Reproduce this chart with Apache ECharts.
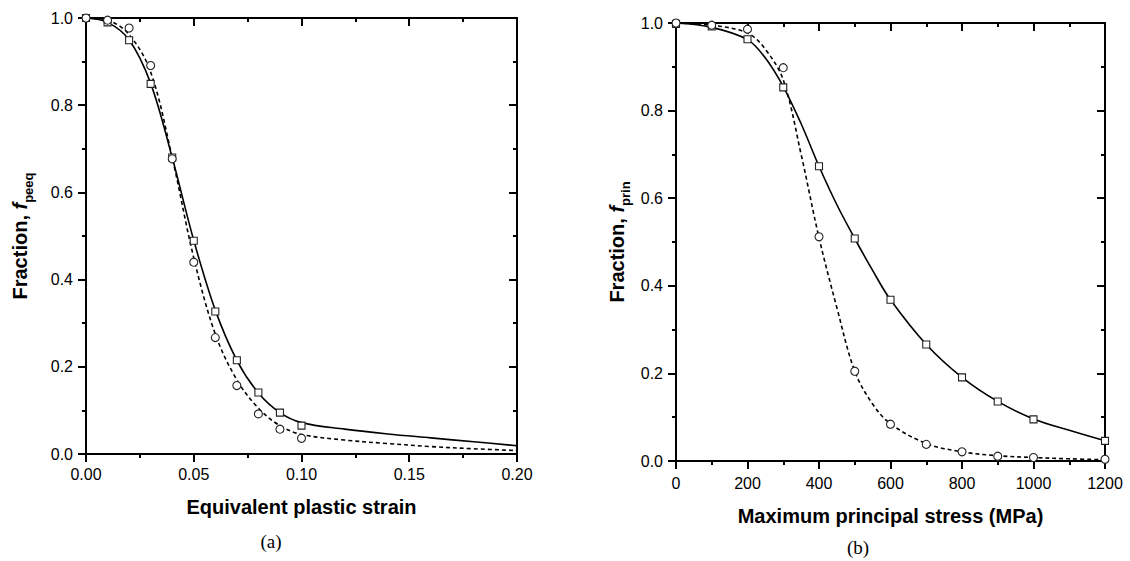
<!DOCTYPE html>
<html>
<head>
<meta charset="utf-8">
<script src="https://cdn.jsdelivr.net/npm/echarts@6/dist/echarts.min.js"></script>
<style>
html,body{margin:0;padding:0;background:#fff;}
#c{width:1130px;height:561px;}
</style>
</head>
<body>
<div id="c"></div>
<script>
// ---- Panel (a): equivalent plastic strain ----
const strainX = [0, 0.01, 0.02, 0.03, 0.04, 0.05, 0.06, 0.07, 0.08, 0.09, 0.10];
const peeqSquares = [1.0, 0.99, 0.949, 0.849, 0.68, 0.489, 0.327, 0.215, 0.141, 0.095, 0.065];
const peeqCircles = [1.0, 0.995, 0.977, 0.891, 0.677, 0.44, 0.267, 0.157, 0.092, 0.057, 0.036];
const strainFitX = [0, 0.01, 0.02, 0.03, 0.04, 0.05, 0.06, 0.07, 0.08, 0.09, 0.10, 0.12, 0.14, 0.16, 0.18, 0.20];
const peeqSolidFit = [1.0, 0.99, 0.95, 0.85, 0.68, 0.49, 0.33, 0.215, 0.14, 0.095, 0.072, 0.057, 0.046, 0.037, 0.028, 0.019];
const peeqDashedFit = [1.0, 0.995, 0.962, 0.876, 0.68, 0.45, 0.275, 0.17, 0.105, 0.065, 0.045, 0.032, 0.024, 0.017, 0.012, 0.008];
const strainTicks = [0, 0.05, 0.10, 0.15, 0.20];

// ---- Panel (b): maximum principal stress ----
const stressX = [0, 100, 200, 300, 400, 500, 600, 700, 800, 900, 1000, 1200];
const prinSquares = [0.998, 0.992, 0.963, 0.853, 0.673, 0.508, 0.368, 0.266, 0.191, 0.136, 0.095, 0.046];
const prinCircles = [1.0, 0.995, 0.986, 0.898, 0.512, 0.205, 0.084, 0.038, 0.021, 0.011, 0.008, 0.004];
const stressFitX = [0, 100, 200, 250, 300, 350, 400, 450, 500, 550, 600, 700, 800, 900, 1000, 1100, 1200];
const prinSolidFit = [1.0, 0.99, 0.962, 0.92, 0.855, 0.77, 0.673, 0.585, 0.508, 0.435, 0.368, 0.266, 0.191, 0.136, 0.096, 0.07, 0.046];
const prinDashedFit = [1.0, 0.995, 0.977, 0.94, 0.87, 0.70, 0.51, 0.35, 0.205, 0.13, 0.085, 0.04, 0.021, 0.012, 0.008, 0.005, 0.003];
const stressTicks = [0, 200, 400, 600, 800, 1000, 1200];

const fractionTicks = [0.0, 0.2, 0.4, 0.6, 0.8, 1.0];

const zip = (xs, ys) => xs.map((x, i) => [x, ys[i]]);
const FONT = 'Liberation Sans, Arial, sans-serif';
const SERIF = 'Liberation Serif, Times New Roman, serif';

function nameRich() {
  return {
    a: {fontSize: 20, fontWeight: 'bold', fontFamily: FONT, color: '#000', lineHeight: 22, verticalAlign: 'top'},
    f: {fontSize: 20, fontWeight: 'bold', fontStyle: 'italic', fontFamily: FONT, color: '#000', lineHeight: 22, verticalAlign: 'top'},
    s: {fontSize: 13, fontWeight: 'bold', fontFamily: FONT, color: '#000', lineHeight: 14, verticalAlign: 'top', padding: [12, 0, 0, 0]}
  };
}

function xMain(grid, min, max, interval, fmt, name, nameGap, margin) {
  return {
    type: 'value', gridIndex: grid, position: 'bottom', min: min, max: max, interval: interval,
    name: name, nameLocation: 'middle', nameGap: nameGap,
    nameTextStyle: {fontSize: 20, fontWeight: 'bold', fontFamily: FONT, color: '#000'},
    axisLine: {show: true, onZero: false, lineStyle: {color: '#000', width: 2}},
    axisTick: {show: true, inside: false, length: 8, lineStyle: {color: '#000', width: 2}},
    minorTick: {show: true, splitNumber: 2, length: 4, lineStyle: {color: '#000', width: 2}},
    axisLabel: {show: true, margin: margin, fontSize: 16, fontFamily: FONT, color: '#000', formatter: fmt},
    splitLine: {show: false}
  };
}
function xTop(grid, min, max, interval) {
  return {
    type: 'value', gridIndex: grid, position: 'top', min: min, max: max, interval: interval,
    axisLine: {show: true, onZero: false, lineStyle: {color: '#000', width: 2}},
    axisTick: {show: true, inside: true, length: 8, lineStyle: {color: '#000', width: 2}},
    minorTick: {show: true, splitNumber: 2, length: 4, lineStyle: {color: '#000', width: 2}},
    axisLabel: {show: false}, splitLine: {show: false}
  };
}
function yMain(grid, nameStr, nameGap) {
  return {
    type: 'value', gridIndex: grid, position: 'left', min: fractionTicks[0], max: fractionTicks[fractionTicks.length - 1], interval: 0.2,
    name: nameStr, nameLocation: 'middle', nameRotate: 90, nameGap: nameGap,
    nameTextStyle: {rich: nameRich()},
    axisLine: {show: true, onZero: false, lineStyle: {color: '#000', width: 2}},
    axisTick: {show: true, inside: false, length: 8, lineStyle: {color: '#000', width: 2}},
    minorTick: {show: true, splitNumber: 2, length: 4, lineStyle: {color: '#000', width: 2}},
    axisLabel: {show: true, margin: 13, fontSize: 16, fontFamily: FONT, color: '#000', formatter: v => v.toFixed(1)},
    splitLine: {show: false}
  };
}
function yRight(grid) {
  return {
    type: 'value', gridIndex: grid, position: 'right', min: fractionTicks[0], max: fractionTicks[fractionTicks.length - 1], interval: 0.2,
    axisLine: {show: true, onZero: false, lineStyle: {color: '#000', width: 2}},
    axisTick: {show: true, inside: true, length: 8, lineStyle: {color: '#000', width: 2}},
    minorTick: {show: true, splitNumber: 2, length: 4, lineStyle: {color: '#000', width: 2}},
    axisLabel: {show: false}, splitLine: {show: false}
  };
}

function fitLine(xi, yi, data, dashed) {
  return {
    type: 'line', xAxisIndex: xi, yAxisIndex: yi, data: data, smooth: 0.35,
    showSymbol: false, symbol: 'none', z: 2, clip: true,
    lineStyle: {color: '#000', width: 1.6, type: dashed ? [4, 3] : 'solid'},
    emphasis: {disabled: true}
  };
}
function markers(xi, yi, data, sym, size) {
  return {
    type: 'scatter', xAxisIndex: xi, yAxisIndex: yi, data: data, symbol: sym, symbolSize: size,
    z: 5, clip: true,
    itemStyle: {color: '#fff', borderColor: '#222', borderWidth: 1.1, opacity: 1},
    emphasis: {disabled: true}
  };
}

const chart = echarts.init(document.getElementById('c'), null, {renderer: 'svg'});
chart.setOption({
  animation: false,
  backgroundColor: '#fff',
  grid: [
    {left: 86, top: 18, width: 431, height: 436},
    {left: 676, top: 23, width: 429, height: 438}
  ],
  xAxis: [
    xMain(0, strainTicks[0], strainTicks[strainTicks.length - 1], 0.05, v => v.toFixed(2), 'Equivalent plastic strain', 43, 12),
    xTop(0, strainTicks[0], strainTicks[strainTicks.length - 1], 0.05),
    xMain(1, stressTicks[0], stressTicks[stressTicks.length - 1], 200, v => String(v), 'Maximum principal stress (MPa)', 45, 14),
    xTop(1, stressTicks[0], stressTicks[stressTicks.length - 1], 200)
  ],
  yAxis: [
    yMain(0, '{a|Fraction, }{f|f}{s|peeq}', 54),
    yRight(0),
    yMain(1, '{a|Fraction, }{f|f}{s|prin}', 47),
    yRight(1)
  ],
  series: [
    fitLine(0, 0, zip(strainFitX, peeqSolidFit), false),
    fitLine(0, 0, zip(strainFitX, peeqDashedFit), true),
    markers(0, 0, zip(strainX, peeqSquares), 'rect', 7),
    markers(0, 0, zip(strainX, peeqCircles), 'circle', 8),
    fitLine(2, 2, zip(stressFitX, prinSolidFit), false),
    fitLine(2, 2, zip(stressFitX, prinDashedFit), true),
    markers(2, 2, zip(stressX, prinSquares), 'rect', 7),
    markers(2, 2, zip(stressX, prinCircles), 'circle', 8)
  ],
  graphic: [
    {type: 'text', x: 271, y: 541, style: {text: '(a)', fontSize: 19, fontFamily: SERIF, fill: '#000', textAlign: 'center', textVerticalAlign: 'middle'}},
    {type: 'text', x: 858, y: 547, style: {text: '(b)', fontSize: 19, fontFamily: SERIF, fill: '#000', textAlign: 'center', textVerticalAlign: 'middle'}}
  ]
});
</script>
</body>
</html>
